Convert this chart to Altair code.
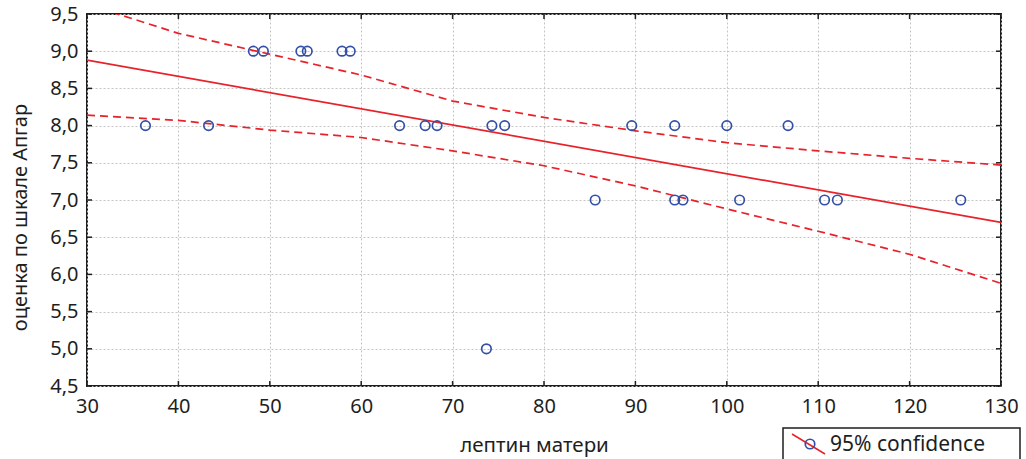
import altair as alt
import pandas as pd

# --- data ---
x_leptin = [36.4, 43.3, 48.2, 49.3, 53.4, 54.1, 57.9, 58.8, 64.2, 67.0, 68.3,
            73.7, 74.3, 75.7, 85.6, 89.6, 94.3, 94.3, 95.2, 100.0, 101.4,
            106.7, 110.7, 112.1, 125.6]
y_apgar = [8, 8, 9, 9, 9, 9, 9, 9, 8, 8, 8,
           5, 8, 8, 7, 8, 8, 7, 7, 8, 7,
           8, 7, 7, 7]

band_x = [30, 40, 50, 60, 70, 80, 90, 100, 110, 120, 130]
band_upper = [9.63, 9.24, 8.96, 8.68, 8.33, 8.11, 7.93, 7.77, 7.66, 7.56, 7.47]
band_lower = [8.14, 8.07, 7.94, 7.84, 7.66, 7.46, 7.19, 6.88, 6.58, 6.27, 5.88]

fit_x = [30, 130]
fit_y = [8.88, 6.70]

x_ticks = [30, 40, 50, 60, 70, 80, 90, 100, 110, 120, 130]
y_ticks = [4.5, 5.0, 5.5, 6.0, 6.5, 7.0, 7.5, 8.0, 8.5, 9.0, 9.5]

legend_label = ["95% confidence"]

# --- layout ---
W, H = 914, 372
FONT = "Noto Sans"
RED = "#e8222a"
BLUE = "#3350a8"
TXT = "#1e1e1e"

xs = alt.Scale(domain=[30, 130], nice=False, zero=False)
ys = alt.Scale(domain=[4.5, 9.5], nice=False, zero=False)

pts = pd.DataFrame({"x": x_leptin, "y": y_apgar})
band = pd.DataFrame({"x": band_x, "upper": band_upper, "lower": band_lower})
fit = pd.DataFrame({"x": fit_x, "y": fit_y})
xt = pd.DataFrame({"x": x_ticks})
yt = pd.DataFrame({"y": y_ticks})
leg = pd.DataFrame({"label": legend_label})

xaxis = alt.Axis(values=x_ticks, grid=True, gridDash=[2, 2], gridColor="#c4c4c4",
                 ticks=False, domain=False, labelFontSize=20, labelPadding=10,
                 labelFont=FONT, labelColor=TXT, labelFlush=False, labelOverlap=False,
                 title="лептин матери", titleFont=FONT, titleFontSize=20.5,
                 titleFontWeight="normal", titleColor=TXT,
                 titleX=447, titleY=59, titleBaseline="middle", titleAlign="center")
yaxis = alt.Axis(values=y_ticks, grid=True, gridDash=[2, 2], gridColor="#c4c4c4",
                 ticks=False, domain=False, labelFontSize=20, labelPadding=9,
                 labelFont=FONT, labelColor=TXT, labelFlush=False, labelOverlap=False,
                 labelExpr="replace(format(datum.value, '.1f'), '.', ',')",
                 title="оценка по шкале Апгар", titleFont=FONT, titleFontSize=20,
                 titleFontWeight="normal", titleColor=TXT,
                 titleAngle=-90, titleX=-67, titleY=203,
                 titleBaseline="middle", titleAlign="center")


def X(field):
    return alt.X(f"{field}:Q", scale=xs, axis=xaxis)


def Y(field):
    return alt.Y(f"{field}:Q", scale=ys, axis=yaxis)


points = alt.Chart(pts).mark_point(shape="circle", filled=False, size=90,
                                   strokeWidth=1.7, color=BLUE, opacity=1).encode(
    x=X("x"), y=Y("y"))

upper = alt.Chart(band).mark_line(color=RED, strokeWidth=1.7, strokeDash=[8, 5],
                                  clip=True).encode(x=X("x"), y=Y("upper"))
lower = alt.Chart(band).mark_line(color=RED, strokeWidth=1.7, strokeDash=[8, 5],
                                  clip=True).encode(x=X("x"), y=Y("lower"))
fitline = alt.Chart(fit).mark_line(color=RED, strokeWidth=1.7, clip=True).encode(
    x=X("x"), y=Y("y"))

tick_style = dict(color=TXT, strokeWidth=1.5)
t_bottom = alt.Chart(xt).mark_rule(**tick_style).encode(
    x=X("x"), y=alt.value(H), y2=alt.value(H - 5))
t_top = alt.Chart(xt).mark_rule(**tick_style).encode(
    x=X("x"), y=alt.value(0), y2=alt.value(5))
t_left = alt.Chart(yt).mark_rule(**tick_style).encode(
    y=Y("y"), x=alt.value(0), x2=alt.value(5))
t_right = alt.Chart(yt).mark_rule(**tick_style).encode(
    y=Y("y"), x=alt.value(W), x2=alt.value(W - 5))

leg_box = alt.Chart(leg).mark_rect(fill="white", stroke=TXT, strokeWidth=1.5).encode(
    x=alt.value(696), x2=alt.value(933), y=alt.value(414), y2=alt.value(462))
leg_line = alt.Chart(leg).mark_rule(color=RED, strokeWidth=1.5).encode(
    x=alt.value(705), x2=alt.value(738), y=alt.value(420), y2=alt.value(440))
leg_pt = alt.Chart(leg).mark_point(shape="circle", filled=False, size=90,
                                   strokeWidth=1.7, color=BLUE, opacity=1).encode(
    x=alt.value(723), y=alt.value(430))
leg_txt = alt.Chart(leg).mark_text(align="left", baseline="middle", font=FONT,
                                   fontSize=21, color=TXT).encode(
    x=alt.value(743), y=alt.value(431), text="label:N")

chart = alt.layer(
    upper, lower, fitline, t_bottom, t_top, t_left, t_right, points,
    leg_box, leg_line, leg_pt, leg_txt
).properties(
    width=W, height=H,
    autosize=alt.AutoSizeParams(type="none"),
    padding={"left": 87, "top": 14, "right": 25, "bottom": 73},
    background="white",
).configure_view(stroke=TXT, strokeWidth=2)

chart.save("out.html", embed_options={"renderer": "svg", "actions": False})
